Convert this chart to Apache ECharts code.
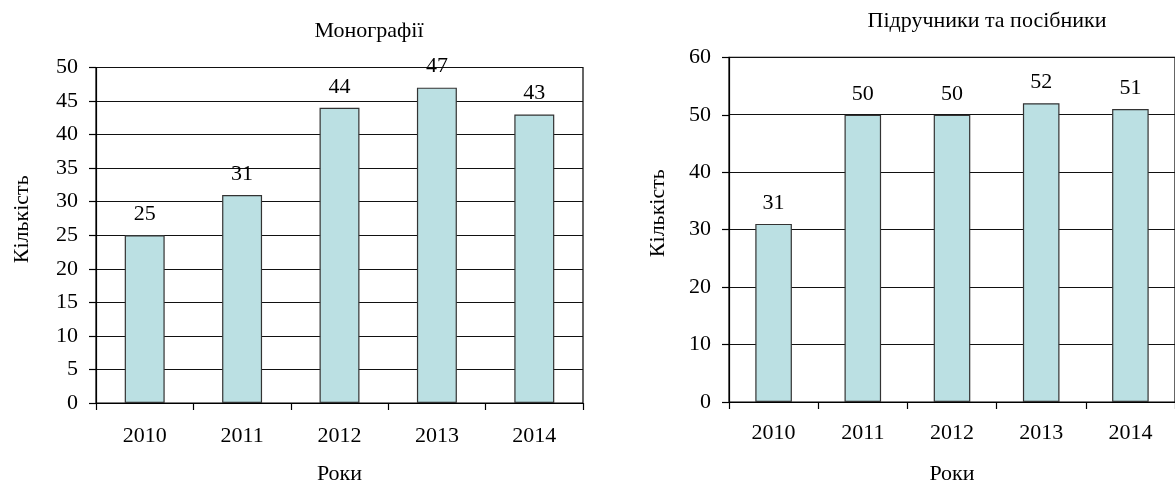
<!DOCTYPE html>
<html>
<head>
<meta charset="utf-8">
<script src="https://cdn.jsdelivr.net/npm/echarts@6/dist/echarts.min.js"></script>
<style>
html,body{margin:0;padding:0;background:#fff;}
#c{width:1175px;height:490px;}
</style>
</head>
<body>
<div id="c"></div>
<script>
const years = ['2010', '2011', '2012', '2013', '2014'];
const monographs = [25, 31, 44, 47, 43];
const textbooks = [31, 50, 50, 52, 51];
const titleLeft = 'Монографії';
const titleRight = 'Підручники та посібники';
const yName = 'Кількість';
const xName = 'Роки';

const FONT = '"Liberation Serif", "Times New Roman", serif';
const FS = 22;
const txt = {fontFamily: FONT, fontSize: FS, color: '#000'};
const barColor = '#BBE0E3';

function xAxis(gridIndex, margin, gap) {
  return {
    type: 'category', gridIndex: gridIndex, data: years,
    axisLine: {lineStyle: {color: '#000', width: 1.2}},
    axisTick: {show: true, length: 7, lineStyle: {color: '#000', width: 1.2}},
    axisLabel: Object.assign({margin: margin}, txt),
    name: xName, nameLocation: 'middle', nameGap: gap,
    nameTextStyle: txt
  };
}
function yAxis(gridIndex, max, interval, gap, shift) {
  return {
    type: 'value', gridIndex: gridIndex, min: 0, max: max, interval: interval,
    axisLine: {show: true, lineStyle: {color: '#000', width: 1.2}},
    axisTick: {show: true, length: 7, lineStyle: {color: '#000', width: 1.2}},
    axisLabel: Object.assign({margin: 18}, txt),
    splitLine: {show: true, lineStyle: {color: '#111', width: 1.2}},
    name: yName, nameLocation: 'middle', nameGap: gap, nameRotate: 90,
    nameTextStyle: Object.assign({padding: [0, 0, 0, shift]}, txt)
  };
}
function barSeries(idx, data) {
  return {
    type: 'bar', xAxisIndex: idx, yAxisIndex: idx, data: data,
    barWidth: '41%',
    itemStyle: {color: barColor, borderColor: '#333', borderWidth: 1.2},
    label: Object.assign({show: true, position: 'top', distance: 10}, txt),
    animation: false
  };
}

const chart = echarts.init(document.getElementById('c'), null, {renderer: 'canvas'});
chart.setOption({
  backgroundColor: '#fff',
  animation: false,
  title: [
    {text: titleLeft, left: 369, top: 20, textAlign: 'center', padding: 0,
     textStyle: Object.assign({fontWeight: 'normal'}, txt)},
    {text: titleRight, left: 987, top: 10, textAlign: 'center', padding: 0,
     textStyle: Object.assign({fontWeight: 'normal'}, txt)}
  ],
  grid: [
    {left: 96, top: 67.5, width: 487, height: 342.5, show: true, borderColor: '#000', borderWidth: 1.2, backgroundColor: 'transparent'},
    {left: 729, top: 57.3, width: 457.5, height: 344.7, show: true, borderColor: '#000', borderWidth: 1.2, backgroundColor: 'transparent'}
  ],
  xAxis: [xAxis(0, 22, 60), xAxis(1, 20, 61)],
  yAxis: [yAxis(0, 50, 5, 63, 32), yAxis(1, 60, 10, 60, 33)],
  series: [barSeries(0, monographs), barSeries(1, textbooks)]
});
</script>
</body>
</html>
